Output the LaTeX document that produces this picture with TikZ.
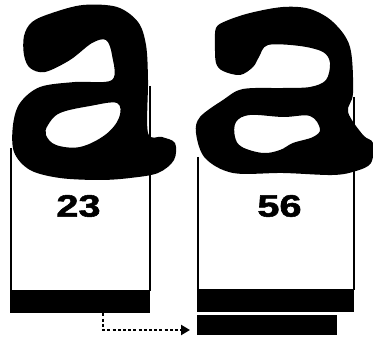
\documentclass[tikz,border=0pt]{standalone}
\usepackage{fontspec}
\setmainfont{Liberation Sans}
\newfontfamily\heavyfont{Liberation Sans}[BoldFeatures={FakeBold=1.6}]
\usetikzlibrary{arrows.meta}
\begin{document}
\begin{tikzpicture}[x=1pt,y=-1pt,
  boxline/.style={line width=1.2pt},
  bar/.style={fill=black,draw=none,inner sep=0pt,anchor=north west},
  glyph/.style={fill=black,even odd rule},
  num/.style={font=\heavyfont\fontsize{31}{31}\selectfont\bfseries,inner sep=0pt},
  flow/.style={line width=2.4pt,dash pattern=on 3pt off 2.2pt,-{Triangle[length=9pt,width=10pt]}}]
\useasboundingbox (0,0) rectangle (373,339);
% box outlines
\draw[boxline] (11,148) -- (11,291);
\draw[boxline] (150,86) -- (150,291);
\draw[boxline] (198,157) -- (198,290);
\draw[boxline] (354,97) -- (354,290);
% left letter a
\fill[glyph] plot[smooth cycle,tension=0.55] coordinates {
 (24,36) (32,22) (52,13) (83,5) (117,7) (138,22) (146,45) (148,80) (148,133)
 (162,137) (175,143) (174,160) (158,173) (130,178) (100,180) (60,178) (30,170)
 (14,152) (13,125) (20,103) (40,87) (75,82) (112,80) (112,55) (106,40) (92,43)
 (70,60) (45,72) (30,68) (24,55)}
 plot[smooth cycle,tension=0.6] coordinates {
 (48,125) (60,113) (90,106) (117,103) (119,118) (105,135) (80,147) (56,145) (46,135)};
% right letter a
\fill[glyph] plot[smooth cycle,tension=0.55] coordinates {
 (216,28) (226,21) (250,13) (283,7) (310,9) (333,22) (350,47) (353,93) (348,112)
 (363,135) (373,143) (371,163) (356,171) (333,175) (283,173) (233,173) (205,158)
 (196,133) (200,117) (223,100) (243,89) (283,88) (310,87) (326,80) (330,63)
 (323,52) (300,46) (268,45) (259,57) (253,67) (240,75) (223,71) (216,63) (215,45)}
 plot[smooth cycle,tension=0.6] coordinates {
 (236,122) (250,115) (283,117) (310,116) (320,129) (313,137) (293,143) (280,150)
 (263,153) (242,147) (235,137)};
% numbers
\node[num] (n23) at (78.5,206) {\scalebox{1.28}[1]{23}};
\node[num] (n56) at (279.5,206) {\scalebox{1.28}[1]{56}};
% bars
\node[bar,minimum width=140pt,minimum height=23pt] (leftbar) at (10,290) {};
\node[bar,minimum width=157pt,minimum height=23pt] (rightbar) at (197,289) {};
\node[bar,minimum width=140pt,minimum height=20pt] (lowbar) at (197,315) {};
% arrow
\coordinate (arrowend) at (190,330);
\draw[flow] ([xshift=23pt]leftbar.south) |- (arrowend);
\end{tikzpicture}
\end{document}
